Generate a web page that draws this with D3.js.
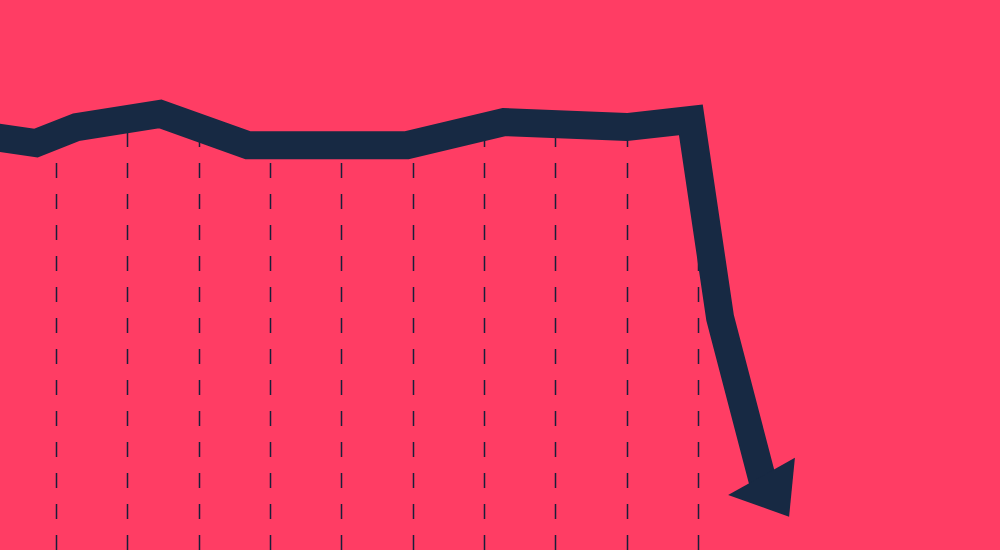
<!DOCTYPE html>
<html>
  <head>
    <script src="https://d3js.org/d3.v7.min.js"></script>
    <style>
    html, body {
      margin: 0;
      padding: 0;
      background: #ff3d64;
      overflow: hidden;
    }
    </style>
  </head>
  <body>
    <script>

    // svg size
    var w = 1000;
    var h = 550;

    // data: position along the time axis (grid units) and index value
    var periods = [0.075, 0.72, 1.29, 2.46, 3.69, 5.92, 7.28, 9.00, 9.90, 10.31, 10.908];
    var values  = [75.2, 74.0, 76.9, 79.3, 73.6, 73.6, 77.8, 76.9, 78.2, 42.2, 12.5];

    // grid positions (dashed verticals)
    var gridTicks = [1, 2, 3, 4, 5, 6, 7, 8, 9, 10];

    var dataset = periods.map(function(p, i) { return [p, values[i]]; });

    // scales
    var xScale = d3.scaleLinear()
      .domain([1, 10])
      .range([56, 698]);

    var yScale = d3.scaleLinear()
      .domain([0, 100])
      .range([h, 0]);

    var svg = d3.select("body")
      .append("svg")
      .attr("width", w)
      .attr("height", h);

    svg.append("rect")
      .attr("width", w)
      .attr("height", h)
      .attr("fill", "#ff3d64");

    // dashed vertical guides, drawn first so the line covers their tops
    svg.append("g")
      .selectAll("line")
      .data(gridTicks)
      .enter()
      .append("line")
      .attr("x1", function(d) { return Math.round(xScale(d)) + 0.5; })
      .attr("x2", function(d) { return Math.round(xScale(d)) + 0.5; })
      .attr("y1", yScale(76))
      .attr("y2", h)
      .attr("stroke", "#1a1f3a")
      .attr("stroke-width", 1.5)
      .attr("stroke-dasharray", "15,16");

    // the thick line
    var line = d3.line()
      .x(function(d) { return xScale(d[0]); })
      .y(function(d) { return yScale(d[1]); });

    svg.append("path")
      .datum(dataset)
      .attr("d", line)
      .attr("fill", "none")
      .attr("stroke", "#172943")
      .attr("stroke-width", 28)
      .attr("stroke-linejoin", "miter")
      .attr("stroke-miterlimit", 10)
      .attr("stroke-linecap", "butt");

    // arrow head at the end of the last segment
    var n = dataset.length;
    var ex = xScale(dataset[n - 1][0]), ey = yScale(dataset[n - 1][1]);
    var px = xScale(dataset[n - 2][0]), py = yScale(dataset[n - 2][1]);
    var len = Math.sqrt((ex - px) * (ex - px) + (ey - py) * (ey - py));
    var dx = (ex - px) / len, dy = (ey - py) / len; // along
    var nx = -dy, ny = dx; // perpendicular

    function pt(a, b) {
      return [ex + dx * a + nx * b, ey + dy * a + ny * b];
    }

    // shaft end sits just inside the head so no corner shows
    var head = [pt(4.5, 37), pt(-14.5, -37), pt(41, -16.5)];

    svg.append("path")
      .attr("d", "M" + head.map(function(p) { return p.join(","); }).join("L") + "Z")
      .attr("fill", "#172943");

    </script>
  </body>
</html>
